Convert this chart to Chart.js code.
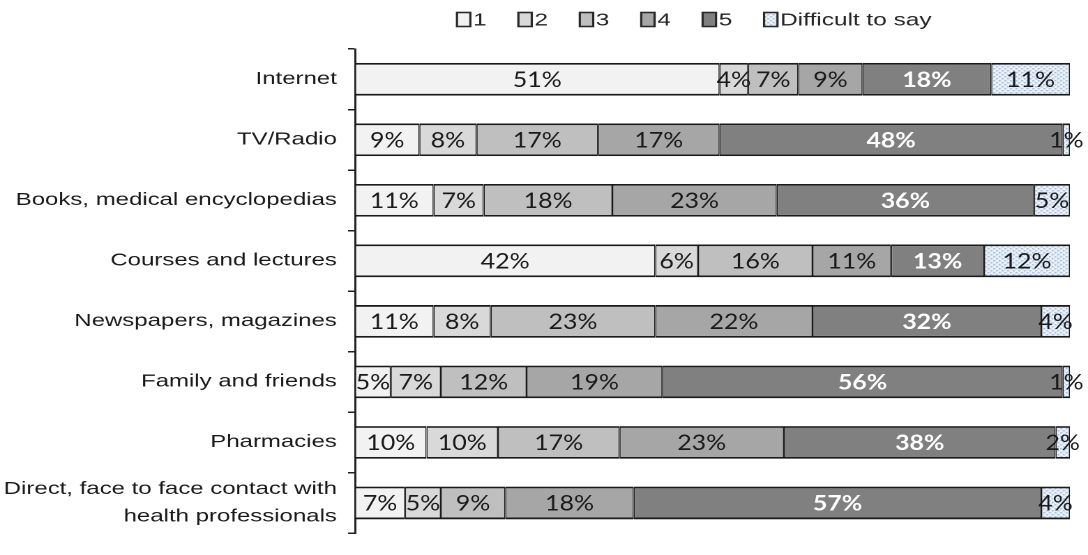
<!DOCTYPE html>
<html>
<head>
<meta charset="utf-8">
<script src="https://cdn.jsdelivr.net/npm/chart.js@4"></script>
<style>
  html, body { margin: 0; padding: 0; background: #fff; }
  /* the source picture is stretched sideways, so the canvas is drawn narrow and widened */
  #chart { width: 1088px !important; height: 555px !important; display: block; }
</style>
</head>
<body>
<canvas id="chart" width="780" height="555" style="width:1088px;height:555px"></canvas>
<script>
const categories = [
    'Internet',
    'TV/Radio',
    'Books, medical encyclopedias',
    'Courses and lectures',
    'Newspapers, magazines',
    'Family and friends',
    'Pharmacies',
    ['Direct, face to face contact with', 'health professionals']
];
const seriesNames = ['1', '2', '3', '4', '5', 'Difficult to say'];
const score1 = [51, 9, 11, 42, 11, 5, 10, 7];
const score2 = [4, 8, 7, 6, 8, 7, 10, 5];
const score3 = [7, 17, 18, 16, 23, 12, 17, 9];
const score4 = [9, 17, 23, 11, 22, 19, 23, 18];
const score5 = [18, 48, 36, 13, 32, 56, 38, 57];
const difficult = [11, 1, 5, 12, 4, 1, 2, 4];

// dotted fill for "Difficult to say"
function dotPattern() {
    const c = document.createElement('canvas');
    c.width = 4; c.height = 4;
    const g = c.getContext('2d');
    g.fillStyle = '#f4f8fc';
    g.fillRect(0, 0, 4, 4);
    g.fillStyle = '#86a8d4';
    g.fillRect(0, 0, 1.4, 1.4);
    g.fillRect(2, 2, 1.4, 1.4);
    return g.createPattern(c, 'repeat');
}

const fills = ['#f2f2f2', '#d9d9d9', '#bfbfbf', '#a6a6a6', '#808080', dotPattern()];
const values = [score1, score2, score3, score4, score5, difficult];

const pctLabels = {
    id: 'pctLabels',
    afterDatasetsDraw(chart) {
        const ctx = chart.ctx;
        chart.data.datasets.forEach((ds, i) => {
            const meta = chart.getDatasetMeta(i);
            meta.data.forEach((bar, j) => {
                const cx = (bar.x + bar.base) / 2;
                ctx.save();
                ctx.translate(cx, bar.y + 1);
                ctx.scale(0.85, 1);
                ctx.font = (i === 4 ? 'bold ' : '') + '21px Lato';
                ctx.fillStyle = i === 4 ? '#ffffff' : '#1a1a1a';
                ctx.textAlign = 'center';
                ctx.textBaseline = 'middle';
                ctx.fillText(ds.data[j] + '%', 0, 0);
                ctx.restore();
            });
        });
    }
};

const topLegend = {
    id: 'topLegend',
    afterDraw(chart) {
        const ctx = chart.ctx;
        let x = 327.6;
        const y = 19.5;
        ctx.save();
        ctx.font = '17.5px "Liberation Sans", Arial';
        ctx.textBaseline = 'middle';
        chart.data.datasets.forEach(ds => {
            ctx.fillStyle = ds.backgroundColor;
            ctx.fillRect(x, y - 7, 9.6, 14);
            ctx.strokeStyle = '#2a2a2a';
            ctx.lineWidth = 1.6;
            ctx.strokeRect(x, y - 7, 9.6, 14);
            ctx.fillStyle = '#262626';
            ctx.fillText(ds.label, x + 11.5, y + 1);
            x += 11.5 + ctx.measureText(ds.label).width + 22.8;
        });
        ctx.restore();
    }
};

new Chart(document.getElementById('chart'), {
    type: 'bar',
    data: {
        labels: categories,
        datasets: seriesNames.map((name, i) => ({
            label: name,
            data: values[i],
            backgroundColor: fills[i],
            borderColor: '#1a1a1a',
            // thinner sides because the canvas gets stretched sideways
            borderWidth: { top: 1.8, bottom: 1.8, left: 0.8, right: 0.8 },
            borderSkipped: false,
            barPercentage: 0.54,
            categoryPercentage: 1
        }))
    },
    options: {
        indexAxis: 'y',
        responsive: false,
        animation: false,
        devicePixelRatio: 2,
        layout: { padding: { top: 49, right: 13, bottom: 3, left: 0 } },
        plugins: {
            legend: { display: false },
            tooltip: { enabled: false }
        },
        scales: {
            x: { stacked: true, display: false, min: 0, max: 100 },
            y: {
                stacked: true,
                grid: { drawOnChartArea: false, drawTicks: true, tickLength: 5, color: '#222', lineWidth: 1.5, offset: true },
                border: { display: true, color: '#222', width: 1.5 },
                ticks: {
                    color: '#1a1a1a',
                    padding: 8,
                    font: { family: '"Liberation Sans", Arial', size: 17.2, lineHeight: 1.6 }
                },
                afterFit(s) { s.width = 254.5; }
            }
        }
    },
    plugins: [pctLabels, topLegend]
});
</script>
</body>
</html>
